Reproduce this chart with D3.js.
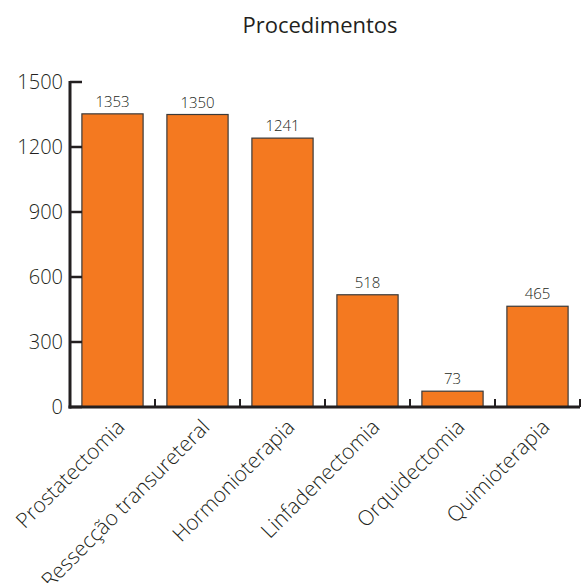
<!DOCTYPE html>
<html>
<head>
<meta charset="utf-8">
<script src="https://cdn.jsdelivr.net/npm/d3@7"></script>
<style>
  body { margin: 0; background: #fff; }
  text { font-family: "Open Sans", "Noto Sans", sans-serif; fill: #231f20; }
</style>
</head>
<body>
<div class="chart"></div>
<script>
const categories = ["Prostatectomia", "Ressecção transureteral", "Hormonioterapia", "Linfadenectomia", "Orquidectomia", "Quimioterapia"]
const values = [1353, 1350, 1241, 518, 73, 465]
const yTicks = [0, 300, 600, 900, 1200, 1500]
const title = "Procedimentos"

const width = 582
const height = 583
const plotLeft = 70, plotRight = 580, plotTop = 82, plotBottom = 407

const svg = d3.select(".chart")
    .append("svg")
    .attr("width", width)
    .attr("height", height)

const xScale = d3.scaleBand()
    .domain(categories)
    .range([plotLeft, plotRight])
    .paddingInner(0.28)
    .paddingOuter(0.14)

const yScale = d3.scaleLinear()
    .domain([0, 1500])
    .range([plotBottom, plotTop])

const step = xScale.step()

// title
svg.append("text")
    .attr("x", 320)
    .attr("y", 33)
    .attr("text-anchor", "middle")
    .style("font-size", "22px")
    .text(title)

// bars
svg.selectAll("rect.bar")
    .data(values)
    .enter()
    .append("rect")
      .attr("class", "bar")
      .attr("x", (d, i) => xScale(categories[i]))
      .attr("y", d => yScale(d))
      .attr("width", xScale.bandwidth())
      .attr("height", d => plotBottom - yScale(d))
      .attr("fill", "#f47920")
      .attr("stroke", "#3a3a3a")
      .attr("stroke-width", 1.2)

// value labels
svg.selectAll("text.val")
    .data(values)
    .enter()
    .append("text")
      .attr("class", "val")
      .attr("x", (d, i) => xScale(categories[i]) + xScale.bandwidth() / 2)
      .attr("y", d => yScale(d) - 7)
      .attr("text-anchor", "middle")
      .style("font-size", "15px")
      .style("font-weight", 300)
      .text(d => d)

// y axis
const yAxis = svg.append("g")
yAxis.append("line")
    .attr("x1", plotLeft).attr("x2", plotLeft)
    .attr("y1", plotTop - 1).attr("y2", plotBottom + 1.5)
    .attr("stroke", "#231f20").attr("stroke-width", 3)
yAxis.selectAll("line.tick")
    .data(yTicks)
    .enter()
    .append("line")
      .attr("class", "tick")
      .attr("x1", plotLeft).attr("x2", plotLeft + 12)
      .attr("y1", d => yScale(d)).attr("y2", d => yScale(d))
      .attr("stroke", "#231f20").attr("stroke-width", 2.5)
yAxis.selectAll("text")
    .data(yTicks)
    .enter()
    .append("text")
      .attr("x", plotLeft - 7)
      .attr("y", d => yScale(d))
      .attr("dy", "0.35em")
      .attr("text-anchor", "end")
      .style("font-size", "20px")
      .style("font-weight", 300)
      .text(d => d)

// x axis
const xAxis = svg.append("g")
xAxis.append("line")
    .attr("x1", plotLeft - 1.5).attr("x2", plotRight)
    .attr("y1", plotBottom).attr("y2", plotBottom)
    .attr("stroke", "#231f20").attr("stroke-width", 3)
xAxis.selectAll("line.tick")
    .data(categories)
    .enter()
    .append("line")
      .attr("class", "tick")
      .attr("x1", d => xScale(d) - xScale.paddingOuter() * step + step)
      .attr("x2", d => xScale(d) - xScale.paddingOuter() * step + step)
      .attr("y1", plotBottom).attr("y2", plotBottom - 8)
      .attr("stroke", "#231f20").attr("stroke-width", 2)
xAxis.selectAll("text")
    .data(categories)
    .enter()
    .append("text")
      .attr("transform", d => `translate(${xScale(d) + xScale.bandwidth() / 2 + 3}, 418) rotate(-45)`)
      .attr("dy", "0.7em")
      .attr("text-anchor", "end")
      .style("font-size", "21px")
      .style("font-weight", 300)
      .text(d => d)
</script>
</body>
</html>
